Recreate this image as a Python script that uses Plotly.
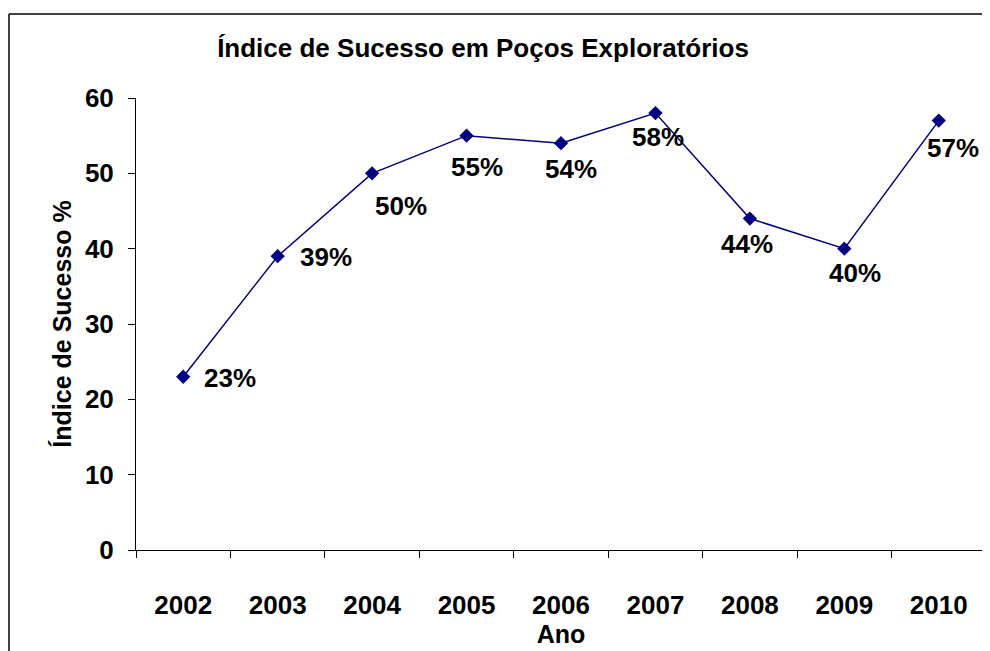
import plotly.graph_objects as go

years = ["2002", "2003", "2004", "2005", "2006", "2007", "2008", "2009", "2010"]
success = [23, 39, 50, 55, 54, 58, 44, 40, 57]
labels = ["23%", "39%", "50%", "55%", "54%", "58%", "44%", "40%", "57%"]
y_ticks = [0, 10, 20, 30, 40, 50, 60]

# label offsets in pixels (style only)
label_dx = [47, 48, 29, 10, 10, 3, -3, 11, 14]
label_dy = [-1, -1, -33, -31, -26, -24, -25, -24, -27]

FONT = "Liberation Sans, Arial, sans-serif"
NAVY = "#000080"

W, H = 982, 643
ML, MT, MR = 128, 90, 4
PW, PH = 850, 452
MB = H - MT - PH

fig = go.Figure()
fig.add_trace(go.Scatter(
    x=years, y=success, mode="lines+markers",
    line=dict(color=NAVY, width=1.5),
    marker=dict(symbol="diamond", size=11, color=NAVY),
    hoverinfo="x+y", showlegend=False,
))

for i, (y, t, dx, dy) in enumerate(zip(success, labels, label_dx, label_dy)):
    fig.add_annotation(x=i, y=y, xref="x", yref="y", text=t, showarrow=False,
                       xshift=dx, yshift=dy,
                       font=dict(family=FONT, size=26, color="black", weight="bold"))

fig.update_layout(
    width=W, height=H,
    margin=dict(l=ML, r=MR, t=MT, b=MB, pad=0),
    paper_bgcolor="white", plot_bgcolor="white",
    title=dict(text="Índice de Sucesso em Poços Exploratórios",
               x=475 / W, xanchor="center", y=1 - 40 / H, yanchor="middle",
               font=dict(family=FONT, size=26, color="black", weight="bold")),
    xaxis=dict(
        type="category", range=[-0.5, 8.5], tickson="boundaries",
        ticks="outside", ticklen=7, tickcolor="black", tickwidth=1,
        showline=True, linecolor="black", linewidth=1,
        showgrid=False, zeroline=False, ticklabelstandoff=32,
        tickfont=dict(family=FONT, size=26, color="black", weight="bold"),
        title=dict(text="Ano", standoff=4,
                   font=dict(family=FONT, size=25, color="black", weight="bold")),
    ),
    yaxis=dict(
        range=[0, 60], tickvals=y_ticks, ticks="outside", ticklen=7,
        tickcolor="black", tickwidth=1,
        showline=True, linecolor="black", linewidth=1,
        showgrid=False, zeroline=False, ticklabelstandoff=9,
        tickfont=dict(family=FONT, size=26, color="black", weight="bold"),
        title=dict(text="Índice de Sucesso %", standoff=6,
                   font=dict(family=FONT, size=25, color="black", weight="bold")),
    ),
    shapes=[
        dict(type="line", xref="paper", yref="paper",
             x0=(1 - ML) / PW, x1=(W - ML) / PW,
             y0=(PH + MT - 6) / PH, y1=(PH + MT - 6) / PH,
             line=dict(color="black", width=1.5)),
        dict(type="line", xref="paper", yref="paper",
             x0=(1 - ML) / PW, x1=(1 - ML) / PW,
             y0=(PH + MT - 6) / PH, y1=-MB / PH,
             line=dict(color="black", width=1.5)),
    ],
)

fig.write_html("out.html")
